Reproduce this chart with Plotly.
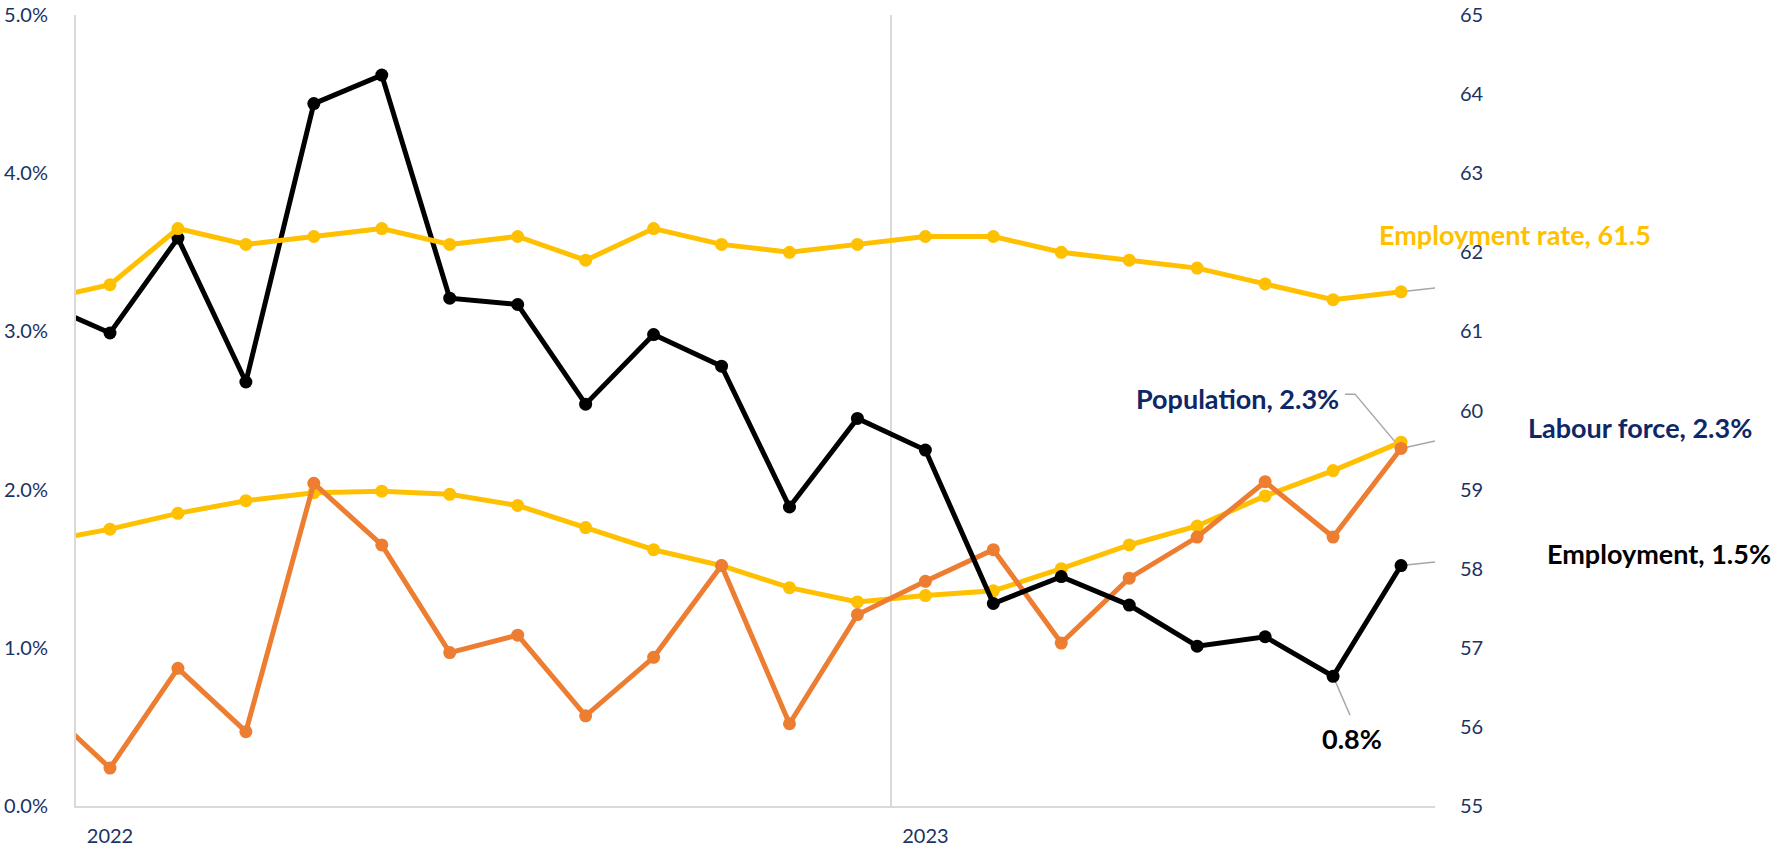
import plotly.graph_objects as go

months = ["Dec 2021", "Jan 2022", "Feb 2022", "Mar 2022", "Apr 2022", "May 2022", "Jun 2022",
          "Jul 2022", "Aug 2022", "Sep 2022", "Oct 2022", "Nov 2022", "Dec 2022",
          "Jan 2023", "Feb 2023", "Mar 2023", "Apr 2023", "May 2023", "Jun 2023",
          "Jul 2023", "Aug 2023"]

employment = [3.18, 2.99, 3.59, 2.68, 4.44, 4.62, 3.21, 3.17, 2.54, 2.98, 2.78, 1.89, 2.45,
              2.25, 1.28, 1.45, 1.27, 1.01, 1.07, 0.82, 1.52]
labour_force = [0.64, 0.24, 0.87, 0.47, 2.04, 1.65, 0.97, 1.08, 0.57, 0.94, 1.52, 0.52, 1.21,
                1.42, 1.62, 1.03, 1.44, 1.70, 2.05, 1.70, 2.26]
population = [1.67, 1.75, 1.85, 1.93, 1.98, 1.99, 1.97, 1.90, 1.76, 1.62, 1.52, 1.38, 1.29,
              1.33, 1.36, 1.50, 1.65, 1.77, 1.96, 2.12, 2.30]
employment_rate = [61.4, 61.59, 62.3, 62.1, 62.2, 62.3, 62.1, 62.2, 61.9, 62.3, 62.1, 62.0, 62.1,
                   62.2, 62.2, 62.0, 61.9, 61.8, 61.6, 61.4, 61.5]

year_ticks = ["2022", "2023"]

# month centres: Dec 2021 sits half a month left of the axis start (Jan 2022)
xpos = [i - 0.5 for i in range(len(months))]
year_pos = [0.5, 12.5]      # labels centred on January
year_grid = [12]

BLACK = "#000000"
ORANGE = "#ED7D31"
YELLOW = "#FFC000"
NAVY_TICK = "#1B3263"
NAVY = "#0E2766"
GREY = "#A6A6A6"
AXIS = "#D9D9D9"
FONT = "Lato"

fig = go.Figure()

def add_line(y, color, axis="y"):
    fig.add_trace(go.Scatter(
        x=xpos, y=y, customdata=months, mode="lines+markers", yaxis=axis,
        line=dict(color=color, width=5),
        marker=dict(color=color, size=13),
        hoverinfo="skip", showlegend=False))

add_line(employment_rate, YELLOW, "y2")
add_line(population, YELLOW)
add_line(labour_force, ORANGE)
add_line(employment, BLACK)

last = len(months) - 1
xl = xpos[last]
xj = xpos[last - 1]

def leader(x, y, yref, path):
    fig.add_shape(type="path", xref="x", yref=yref, xsizemode="pixel", ysizemode="pixel",
                  xanchor=x, yanchor=y, path=path,
                  line=dict(color=GREY, width=1.5), layer="below")

def label(x, y, yref, text, color, xshift, yshift, xanchor):
    fig.add_annotation(x=x, y=y, xref="x", yref=yref, text=text, showarrow=False,
                       xanchor=xanchor, yanchor="middle", xshift=xshift, yshift=yshift,
                       font=dict(family=FONT, size=27, color=color, weight="bold"))

# Employment rate
leader(xl, employment_rate[last], "y2", "M 0 0 L 113 13")
label(xl, employment_rate[last], "y2", f"Employment rate, {employment_rate[last]:.1f}",
      YELLOW, 114, 57, "center")
# Population
leader(xl, population[last], "y", "M -4 -2 L -46 48 L -56 48")
label(xl, population[last], "y", f"Population, {population[last]:.1f}%", NAVY, -60, 44, "right")
# Labour force
leader(xl, labour_force[last], "y", "M 0 0 L 106 23 L 119 23")
label(xl, labour_force[last], "y", f"Labour force, {labour_force[last]:.1f}%", NAVY, 125, 21, "left")
# Employment
leader(xl, employment[last], "y", "M 0 0 L 134 14")
label(xl, employment[last], "y", f"Employment, {employment[last]:.1f}%", BLACK, 144, 12, "left")
# 0.8%
leader(xj, employment[last - 1], "y", "M 0 0 L 17 -39")
label(xj, employment[last - 1], "y", f"{employment[last - 1]:.1f}%", BLACK, 19, -62, "center")

fig.update_layout(
    width=1775, height=851,
    margin=dict(l=76, r=340, t=15, b=45),
    paper_bgcolor="white", plot_bgcolor="white",
    font=dict(family=FONT, size=20, color=NAVY_TICK),
    showlegend=False,
    xaxis=dict(range=[0, 20], tickmode="array", tickvals=year_pos, ticktext=year_ticks,
               showgrid=False, zeroline=False, showline=True, linecolor=AXIS, linewidth=2,
               ticks="", ticklabelstandoff=11, automargin=False,
               tickfont=dict(size=20, color=NAVY_TICK),
               minor=dict(tickmode="array", tickvals=year_grid, showgrid=True,
                          gridcolor=AXIS, gridwidth=1.5, ticks="")),
    yaxis=dict(range=[0, 5], tickmode="linear", tick0=0, dtick=1, tickformat=".1f",
               ticksuffix="%", showgrid=False, zeroline=False, showline=True,
               linecolor=AXIS, linewidth=2, ticks="", ticklabelstandoff=22, automargin=False,
               tickfont=dict(size=20, color=NAVY_TICK)),
    yaxis2=dict(range=[55, 65], tickmode="linear", tick0=55, dtick=1, overlaying="y",
                side="right", showgrid=False, zeroline=False, showline=False, ticks="",
                ticklabelstandoff=24, automargin=False,
                tickfont=dict(size=20, color=NAVY_TICK)),
)

fig.write_html("out.html", config={"displayModeBar": False},
               post_script="document.body.style.margin='0';document.body.style.overflow='hidden';")
